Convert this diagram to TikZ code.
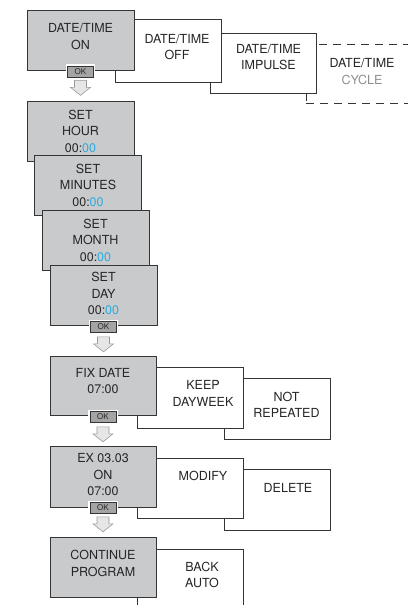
\documentclass[tikz,border=0pt]{standalone}
\usepackage{fontspec}
\setmainfont{TeX Gyre Heros}
\usepackage{xcolor}
\usepackage{tikz}
\usetikzlibrary{positioning, calc}

\definecolor{panelgray}{HTML}{C9CACC}
\definecolor{edgegray}{HTML}{353535}
\definecolor{keygray}{HTML}{A4A4A4}
\definecolor{arrowgray}{HTML}{E6E6E6}
\definecolor{digitblue}{HTML}{29ABE2}
\definecolor{cyclegray}{HTML}{8E8E8E}
\newcommand{\bluedigits}[1]{\textcolor{digitblue}{#1}}

\begin{document}
\begin{tikzpicture}[
    x=1pt, y=-1pt,
    font=\fontsize{12.5}{16.5}\selectfont,
    screen/.style={rectangle, draw=edgegray, line width=0.9pt, fill=panelgray, minimum width=107pt, minimum height=60pt, inner sep=0pt},
    option/.style={rectangle, draw=edgegray, line width=0.7pt, fill=white, minimum width=106pt, minimum height=61pt, inner sep=0pt},
    caption/.style={align=center, text=black!85, inner sep=0pt},
    okkey/.style={rectangle, draw=edgegray, line width=0.7pt, fill=keygray, preaction={draw=white, line width=3.2pt}, minimum width=26pt, minimum height=11pt, inner sep=0pt, font=\fontsize{8}{9}\selectfont, text=black!85},
    downarr/.pic={\draw[draw=black!40, fill=arrowgray, line width=0.6pt] (-6,0) -- (6,0) -- (6,7) -- (10,7) -- (0,15) -- (-10,7) -- (-6,7) -- cycle;}
]
\useasboundingbox (0,0) rectangle (407,605);

% mode choice
\node[option, dashed, dash pattern=on 8pt off 6pt, minimum width=114pt, minimum height=59pt] (cycle) at (363,73.5) {};
\node[option, minimum height=60pt] (impulse) at (263,63) {};
\node[option, minimum height=63pt] (off) at (168,50.5) {};
\node[screen] (on) at (80.5,40) {};
\node[caption] (ontxt) at (80.5,36.5) {DATE/TIME\\ON};
\node[caption] (offtxt) at (177,47) {DATE/TIME\\OFF};
\node[caption] (impulsetxt) at (268.5,57) {DATE/TIME\\IMPULSE};
\node[caption] (cycletxt) at (362,71.5) {DATE/TIME\\\textcolor{cyclegray}{CYCLE}};
\node[okkey] (okon) at (80.5,71.5) {OK};
\pic at ($(okon.south)+(0,3)$) {downarr};

% setting the time
\node[screen] (hour) at (80.5,131) {};
\node[caption] (hourtxt) at (80.5,131) {SET\\HOUR\\00:\bluedigits{00}};
\node[screen] (minutes) at (88,185.5) {};
\node[caption] (minutestxt) at (88,185) {SET\\MINUTES\\00:\bluedigits{00}};
\node[screen] (month) at (95.5,240.5) {};
\node[caption] (monthtxt) at (95.5,240) {SET\\MONTH\\00:\bluedigits{00}};
\node[screen] (day) at (103.5,295.5) {};
\node[caption] (daytxt) at (103.5,293.5) {SET\\DAY\\00:\bluedigits{00}};
\node[okkey] (okday) at (103.5,327) {OK};
\pic at ($(okday.south)+(0,4)$) {downarr};

% repetition
\node[option] (notrep) at (277,408.5) {};
\node[option] (keep) at (190,397.5) {};
\node[screen, minimum width=106pt, minimum height=59pt] (fix) at (103,385.5) {};
\node[caption] (fixtxt) at (103,381) {FIX DATE\\07:00};
\node[caption] (keeptxt) at (203,393.5) {KEEP\\DAYWEEK};
\node[caption] (notreptxt) at (286.5,405) {NOT\\REPEATED};
\node[okkey] (okfix) at (103,417) {OK};
\pic at ($(okfix.south)+(0,4)$) {downarr};

% stored program
\node[option] (delete) at (277,499.5) {};
\node[option, minimum height=60pt] (modify) at (190,488) {};
\node[screen, minimum width=106pt, minimum height=61pt] (ex) at (103,476.5) {};
\node[caption] (extxt) at (103,475) {EX 03.03\\ON\\07:00};
\node[caption] (modifytxt) at (203,476) {MODIFY};
\node[caption] (deletetxt) at (288,487.5) {DELETE};
\node[okkey] (okex) at (103,508) {OK};
\pic at ($(okex.south)+(0,3)$) {downarr};

% end
\node[option, minimum height=71pt] (back) at (190,584.5) {};
\node[screen, minimum width=106pt] (cont) at (103,567) {};
\node[caption] (conttxt) at (103,563.5) {CONTINUE\\PROGRAM};
\node[caption] (backtxt) at (202,575) {BACK\\AUTO};

\end{tikzpicture}
\end{document}
